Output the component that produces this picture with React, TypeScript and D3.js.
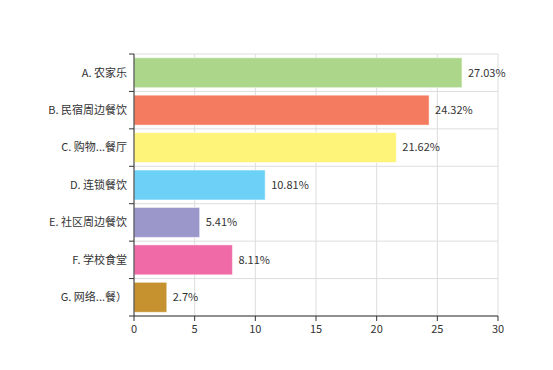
import React from 'react';
import { scaleLinear, scaleBand } from 'd3';

const svgWidth = 553;
const svgHeight = 370;

const categories = ['A. 农家乐', 'B. 民宿周边餐饮', 'C. 购物...餐厅', 'D. 连锁餐饮', 'E. 社区周边餐饮', 'F. 学校食堂', 'G. 网络...餐）'];
const values = [27.03, 24.32, 21.62, 10.81, 5.41, 8.11, 2.7];
const barColors = ['#acd68a', '#f47b5f', '#fff47a', '#6dd0f7', '#9b97cb', '#ef6aa7', '#c6912f'];
const xTicks = [0, 5, 10, 15, 20, 25, 30];

const margin = { left: 134, right: 55, top: 54, bottom: 54 };
const innerW = svgWidth - margin.left - margin.right;
const innerH = svgHeight - margin.top - margin.bottom;

const fontFamily = '"Microsoft YaHei", "Noto Sans CJK SC", sans-serif';

export default function App() {
  const x = scaleLinear().domain([0, 30]).range([0, innerW]);
  const y = scaleBand().domain(categories).range([0, innerH]).paddingInner(0.2).paddingOuter(0.1);
  const step = y.step();
  const bandEdges = categories.map((_, i) => i * step).concat([innerH]);

  return (
    <svg
      width={svgWidth}
      height={svgHeight}
      style={{ position: 'absolute', left: 0, top: 0, background: '#fff' }}
      fontFamily={fontFamily}
    >
      <g transform={`translate(${margin.left}, ${margin.top})`}>
        {/* grid */}
        {xTicks.map((t) => (
          <line key={'gx' + t} x1={x(t)} x2={x(t)} y1={0} y2={innerH} stroke="#ddd" />
        ))}
        {bandEdges.map((e, i) => (
          <line key={'gy' + i} x1={0} x2={innerW} y1={e} y2={e} stroke="#ddd" />
        ))}

        {/* bars */}
        {values.map((v, i) => (
          <g key={categories[i]}>
            <rect
              x={x(0)}
              y={y(categories[i])}
              width={x(v) - x(0)}
              height={y.bandwidth()}
              fill={barColors[i]}
              stroke="#fff"
              strokeOpacity={0.5}
            />
            <text
              x={x(v) + 6}
              y={(y(categories[i]) || 0) + y.bandwidth() / 2}
              dy="0.35em"
              fontSize={11}
              fill="#333"
            >
              {v + '%'}
            </text>
            <text
              x={-7}
              y={i * step + step / 2}
              dy="0.35em"
              fontSize={11}
              fill="#333"
              textAnchor="end"
            >
              {categories[i]}
            </text>
          </g>
        ))}

        {/* left axis */}
        <line x1={0} x2={0} y1={0} y2={innerH} stroke="#333" />
        {bandEdges.map((e, i) => (
          <line key={'ty' + i} x1={-5} x2={0} y1={e} y2={e} stroke="#333" />
        ))}

        {/* bottom axis */}
        <line x1={0} x2={innerW} y1={innerH} y2={innerH} stroke="#333" />
        {xTicks.map((t) => (
          <g key={'tx' + t}>
            <line x1={x(t)} x2={x(t)} y1={innerH} y2={innerH + 5} stroke="#333" />
            <text x={x(t)} y={innerH + 17} fontSize={11} fill="#333" textAnchor="middle">
              {t}
            </text>
          </g>
        ))}
      </g>
    </svg>
  );
}
